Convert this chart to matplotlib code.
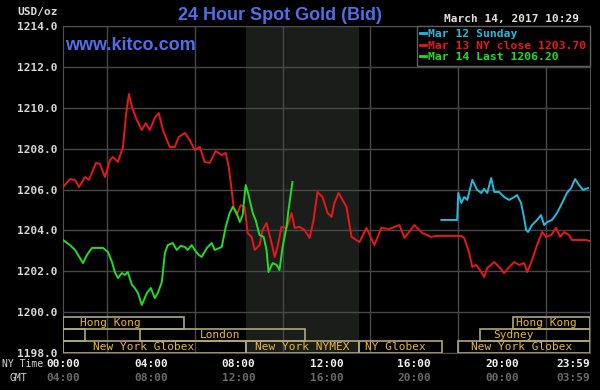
import matplotlib
matplotlib.use("Agg")
import matplotlib.pyplot as plt
from matplotlib.patches import Rectangle
from matplotlib.lines import Line2D

# prices, hours in NY time
mar13_hours = [0.00, 0.32, 0.55, 0.73, 1.00, 1.18, 1.50, 1.68, 1.91, 2.14, 2.27, 2.50, 2.73, 2.86,
               3.00, 3.14, 3.36, 3.59, 3.77, 3.95, 4.18, 4.36, 4.55, 4.86, 5.09, 5.27, 5.55, 5.77,
               6.00, 6.23, 6.45, 6.68, 6.95, 7.23, 7.41, 7.55, 7.68, 7.77, 7.91, 8.09, 8.27, 8.41,
               8.59, 8.73, 8.95, 9.09, 9.27, 9.50, 9.64, 9.77, 9.95, 10.18, 10.41, 10.55, 10.77,
               11.00, 11.23, 11.41, 11.59, 11.82, 12.05, 12.23, 12.36, 12.55, 12.91, 13.14, 13.50,
               13.82, 14.18, 14.50, 14.86, 15.32, 15.55, 16.00, 16.36, 16.77, 17.00, 18.14, 18.27,
               18.50, 18.64, 18.82, 19.05, 19.18, 19.32, 19.64, 19.86, 20.09, 20.32, 20.55, 20.77,
               21.00, 21.14, 21.36, 21.59, 21.82, 22.00, 22.23, 22.45, 22.64, 22.82, 23.05, 23.18,
               23.50, 23.82, 23.98]
mar13_prices = [1206.12, 1206.51, 1206.47, 1206.12, 1206.61, 1206.47, 1207.30, 1207.25, 1206.61,
                1207.44, 1207.59, 1207.35, 1208.08, 1209.55, 1210.67, 1210.04, 1209.40, 1208.91,
                1209.25, 1208.91, 1209.50, 1209.74, 1208.91, 1208.08, 1208.08, 1208.57, 1208.77,
                1208.42, 1207.93, 1208.08, 1207.35, 1207.30, 1207.88, 1207.69, 1207.79, 1207.10,
                1205.98, 1205.15, 1204.75, 1205.24, 1205.15, 1203.87, 1203.68, 1203.04, 1203.28,
                1204.02, 1204.36, 1203.38, 1202.70, 1203.19, 1204.17, 1204.12, 1204.85, 1204.12,
                1204.17, 1204.02, 1203.63, 1204.51, 1205.88, 1205.63, 1204.85, 1204.66, 1205.34,
                1205.83, 1205.15, 1203.68, 1203.43, 1204.12, 1203.28, 1204.12, 1204.07, 1204.26,
                1203.63, 1204.26, 1203.87, 1203.68, 1203.73, 1203.73, 1203.63, 1202.89, 1202.21,
                1202.31, 1201.96, 1201.72, 1202.16, 1202.45, 1202.21, 1201.91, 1202.21, 1202.45,
                1202.31, 1202.40, 1201.96, 1202.55, 1203.28, 1203.92, 1203.68, 1203.77, 1204.12,
                1203.68, 1203.92, 1203.77, 1203.53, 1203.53, 1203.53, 1203.48]

mar14_hours = [0.00, 0.32, 0.55, 0.77, 0.91, 1.09, 1.32, 1.55, 1.82, 2.05, 2.23, 2.36, 2.50, 2.68,
               2.82, 2.95, 3.14, 3.27, 3.41, 3.59, 3.82, 4.00, 4.18, 4.32, 4.50, 4.64, 4.77, 5.00,
               5.18, 5.36, 5.55, 5.68, 5.86, 6.00, 6.18, 6.32, 6.55, 6.77, 6.91, 7.23, 7.41, 7.59,
               7.73, 7.91, 8.05, 8.18, 8.32, 8.45, 8.64, 8.77, 8.95, 9.14, 9.27, 9.36, 9.55, 9.73,
               9.86, 10.00, 10.18, 10.27, 10.45]
mar14_prices = [1203.53, 1203.28, 1203.04, 1202.65, 1202.40, 1202.80, 1203.14, 1203.14, 1203.14,
                1202.94, 1202.45, 1201.96, 1201.67, 1201.91, 1201.82, 1201.96, 1201.33, 1201.18,
                1200.94, 1200.35, 1200.94, 1201.18, 1200.69, 1200.94, 1201.47, 1202.89, 1203.28,
                1203.38, 1203.04, 1203.24, 1203.19, 1203.04, 1203.28, 1203.04, 1202.80, 1202.70,
                1203.14, 1203.38, 1203.04, 1203.19, 1204.17, 1204.85, 1205.15, 1204.85, 1204.41,
                1204.75, 1206.22, 1205.73, 1204.85, 1204.51, 1203.77, 1203.68, 1203.04, 1201.96,
                1202.40, 1202.31, 1202.06, 1203.19, 1204.17, 1205.00, 1206.37]

mar12_hours = [17.23, 17.95, 18.00, 18.14, 18.27, 18.41, 18.64, 18.86, 19.05, 19.18, 19.32, 19.50,
               19.64, 19.86, 20.09, 20.32, 20.55, 20.68, 20.86, 21.00, 21.09, 21.18, 21.36, 21.59,
               21.77, 21.91, 22.05, 22.27, 22.50, 22.73, 22.95, 23.14, 23.32, 23.50, 23.68, 23.91]
mar12_prices = [1204.51, 1204.51, 1205.83, 1205.34, 1205.63, 1205.49, 1206.47, 1205.98, 1205.83,
                1206.03, 1205.83, 1206.56, 1205.88, 1205.88, 1205.63, 1205.49, 1205.63, 1205.73,
                1205.34, 1204.61, 1204.02, 1203.92, 1204.26, 1204.51, 1204.75, 1204.26, 1204.41,
                1204.51, 1204.85, 1205.34, 1205.83, 1206.07, 1206.51, 1206.22, 1205.98, 1206.07]

series_labels = ["Mar 12 Sunday", "Mar 13 NY close 1203.70", "Mar 14 Last 1206.20"]

# trading sessions (NY time)
sess_names = ["Hong Kong", "Hong Kong", "", "London", "Sydney",
              "New York Globex", "New York NYMEX", "NY Globex", "New York Globex"]
sess_start = [0, 20.5, 0, 3.5, 19.0, 0, 8.33, 13.5, 18.0]
sess_end = [5.5, 24, 1.0, 11.0, 24, 8.33, 13.5, 17.25, 24]
sess_row = [0, 0, 1, 1, 1, 2, 2, 2, 2]
sess_label_x = [2.15, 22.0, 0.5, 7.15, 20.5, 3.65, 10.9, 15.15, 20.9]

nymex_span = (8.33, 13.5)

ny_ticks = [0, 4, 8, 12, 16, 20, 24]
ny_labels = ["00:00", "04:00", "08:00", "12:00", "16:00", "20:00", "23:59"]
gmt_labels = ["04:00", "08:00", "12:00", "16:00", "20:00", "00:00", "03:59"]

MONO = "DejaVu Sans Mono"
SANS = "Liberation Sans"

fig = plt.figure(figsize=(6, 3.9), dpi=100, facecolor="black")
ax = fig.add_axes([63 / 600, 1 - 353 / 390, 527 / 600, 327 / 390])
ax.set_facecolor("black")
ax.set_xlim(0, 24)
ax.set_ylim(1198, 1214)

ax.axvspan(*nymex_span, color="#1b1d1b", zorder=0, lw=0)

ax.set_yticks(range(1198, 1215, 2))
ax.set_yticklabels([f"{v:.1f}" for v in range(1198, 1215, 2)], fontfamily=MONO,
                   fontsize=8, fontweight="bold")
ax.set_xticks(ny_ticks)
ax.set_xticklabels(ny_labels, fontfamily=MONO, fontsize=8, fontweight="bold")
ax.set_xticks(range(0, 25, 2), minor=True)
ax.tick_params(axis="y", length=0, pad=4, labelcolor="#d8d8d8")
ax.tick_params(axis="x", which="both", length=0, pad=4, labelcolor="#f0f0f0")
ax.set_axisbelow(True)
ax.grid(True, which="both", color="#484848", lw=1)
ax.grid(False, axis="x", which="major")
for sp in ax.spines.values():
    sp.set_color("#505050")

# last tick label sits inside the figure
ax.get_xticklabels()[-1].set_horizontalalignment("right")

for x, lab in zip(ny_ticks, gmt_labels):
    ax.text(x, -0.062, lab, transform=ax.get_xaxis_transform(), ha="right" if x == 24 else "center",
            va="top", fontfamily=MONO, fontsize=8, fontweight="bold", color="#6a6a6a")

# sessions bars
row_top = [1199.78, 1199.18, 1198.59]
row_h = 0.59
for name, s, e, r, lx in zip(sess_names, sess_start, sess_end, sess_row, sess_label_x):
    ax.add_patch(Rectangle((s, row_top[r] - row_h), e - s, row_h, facecolor="none",
                           edgecolor="#b0a878", lw=1.2, zorder=3))
    ax.text(lx, row_top[r] - row_h / 2, name, ha="center", va="center", fontfamily=MONO,
            fontsize=8, color="#e8b830", zorder=4)

ax.plot(mar13_hours, mar13_prices, color="#e81818", lw=1.4, zorder=5)
ax.plot(mar14_hours, mar14_prices, color="#22dd22", lw=1.4, zorder=6)
ax.plot(mar12_hours, mar12_prices, color="#22bbe0", lw=1.4, zorder=5)

handles = [Line2D([], [], color="#22bbe0", lw=2),
           Line2D([], [], color="#e81818", lw=2),
           Line2D([], [], color="#22dd22", lw=2)]
leg = ax.legend(handles, series_labels, loc="upper right", borderaxespad=0, fancybox=False,
                framealpha=1, facecolor="black", edgecolor="#606060", handlelength=0.5,
                handletextpad=0.2, labelspacing=0.12, borderpad=0.3, labelcolor="linecolor",
                prop={"family": MONO, "size": 8.2, "weight": "bold"})
leg.set_zorder(10)

fig.text(280 / 600, 1 - 15 / 390, "24 Hour Spot Gold (Bid)", ha="center", va="center",
         fontfamily=SANS, fontsize=13, fontweight="bold", color="#4f6ee8")
fig.text(65 / 600, 1 - 46 / 390, "www.kitco.com", ha="left", va="center",
         fontfamily=SANS, fontsize=13, fontweight="bold", color="#4f6ee8")
fig.text(579 / 600, 1 - 19 / 390, "March 14, 2017 10:29", ha="right", va="center",
         fontfamily=MONO, fontsize=8, fontweight="bold", color="#e0e0e0")
fig.text(58 / 600, 1 - 12 / 390, "USD/oz", ha="right", va="center",
         fontfamily=MONO, fontsize=8, fontweight="bold", color="#d8d8d8")
fig.text(2 / 600, 1 - 364 / 390, "NY Time", ha="left", va="center",
         fontfamily=MONO, fontsize=7, color="#d8d8d8")
fig.text(10 / 600, 1 - 378 / 390, "GMT", ha="left", va="center",
         fontfamily=MONO, fontsize=7, color="#d8d8d8")

fig.savefig("out.png", dpi=100, facecolor="black")
